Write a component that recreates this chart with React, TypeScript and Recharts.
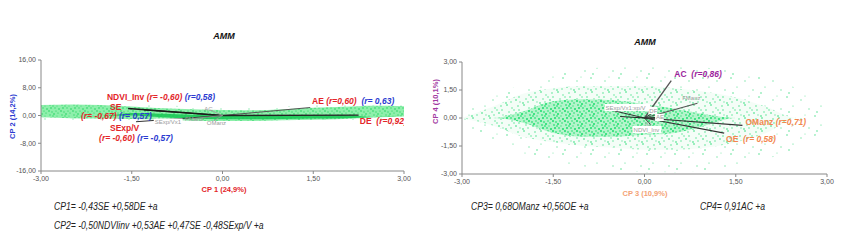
import React from 'react'
import { ComposedChart, Area, Scatter, XAxis, YAxis, ReferenceLine } from 'recharts'

// ---- shared axis ticks
const xTicks = [-3, -1.5, 0, 1.5, 3]
const cp2Ticks = [-16, -8, 0, 8, 16]
const cp4Ticks = [-3, -1.5, 0, 1.5, 3]

// ---- CP1 x CP2 cloud envelope
const gridL = [-3, -2.5, -2, -1.5, -1, -0.5, 0, 0.5, 1, 1.5, 2, 2.5, 3]
const haloTopL = [3.8, 4.2, 4.0, 3.6, 3.0, 2.6, 2.4, 2.3, 2.6, 3.0, 3.4, 3.8, 3.6]
const haloBottomL = [-1.2, -1.6, -1.7, -1.8, -2.0, -2.3, -2.4, -2.4, -2.2, -2.0, -1.8, -1.4, -1.0]
const cloudTopL = [3.0, 3.2, 3.0, 2.6, 2.1, 1.8, 1.6, 1.5, 1.8, 2.2, 2.5, 2.8, 2.7]
const cloudBottomL = [-0.5, -0.8, -0.9, -1.0, -1.2, -1.5, -1.6, -1.6, -1.4, -1.2, -1.0, -0.6, -0.3]
const coreTopL = [0, 0, -0.1, 0.7, 0.5, 0.2, 0.1, 0.0, 0.0, 0.0, 0.1, -0.4, 0]
const coreBottomL = [0, 0, -0.1, 0.0, -0.5, -0.9, -1.1, -1.1, -1.0, -0.9, -0.8, -0.4, 0]

// ---- CP3 x CP4 cloud envelope
const gridR = [-3, -2.5, -2, -1.5, -1, -0.5, 0, 0.5, 1, 1.5, 2, 2.5, 3]
const outerTopR = [0.3, 1.2, 1.8, 2.3, 2.6, 2.8, 2.9, 2.8, 2.7, 2.5, 2.2, 1.6, 0.5]
const outerBottomR = [-0.3, -1.2, -1.9, -2.3, -2.6, -2.8, -2.9, -2.9, -2.8, -2.6, -2.2, -1.6, -0.5]
const midTopR = [0, 0.6, 1.3, 1.6, 1.7, 1.7, 1.7, 1.6, 1.4, 1.1, 0.6, 0, 0]
const midBottomR = [0, -0.4, -1.0, -1.3, -1.5, -1.6, -1.7, -1.7, -1.6, -1.3, -0.8, 0, 0]
const coreTopR = [0, 0, 0.35, 0.9, 1.0, 0.95, 0.75, 0.5, 0.2, 0, 0, 0, 0]
const coreBottomR = [0, 0, -0.25, -0.8, -1.0, -1.0, -0.9, -0.8, -0.4, 0, 0, 0, 0]

// ---- loading vectors
const vectorsL = [
  { name: 'SE', x: -1.56, y: 2.0, color: '#1a1a1a', w: 1.4 },
  { name: 'NDVI_Inv', x: -1.3, y: 1.6, color: '#1a1a1a', w: 1.2 },
  { name: 'SExp/V', x: -1.43, y: -1.8, color: '#333', w: 1 },
  { name: 'AE', x: 1.45, y: 2.3, color: '#555', w: 1 },
  { name: 'DE', x: 2.25, y: 0.1, color: '#222', w: 1.3 },
  { name: 'AC', x: -0.2, y: 1.6, color: '#999', w: 0.8 },
  { name: 'FManz', x: -0.5, y: -0.9, color: '#999', w: 0.8 },
  { name: 'OManz', x: -0.15, y: -1.6, color: '#999', w: 0.8 },
]
const vectorsR = [
  { name: 'AC', x: 0.44, y: 2.0, color: '#555', w: 1.3 },
  { name: 'FManz', x: 0.87, y: 0.79, color: '#555', w: 1.1 },
  { name: 'OManz', x: 1.61, y: -0.4, color: '#333', w: 1.2 },
  { name: 'OE', x: 1.31, y: -0.81, color: '#333', w: 1.2 },
  { name: 'SExp/V', x: -0.52, y: 0.4, color: '#333', w: 1 },
  { name: 'SE', x: -0.4, y: 0.08, color: '#222', w: 1.2 },
  { name: 'DF', x: 0.15, y: 0.3, color: '#333', w: 1 },
  { name: 'AE', x: 0.3, y: 0.05, color: '#333', w: 1 },
  { name: 'NDVI_Inv', x: 0.1, y: -0.35, color: '#333', w: 1 },
]

const RED = '#e3262a'
const BLUE = '#2b3bd1'
const PURPLE = '#9d1f9d'
const ORANGE = '#f2874e'
const GREY = '#9a9a9a'

type Part = { text: string; color: string; bold?: boolean; italic?: boolean }
type Tag = { x: number; y: number; size: number; box?: boolean; parts: Part[] }

const labelsL: Tag[] = [
  { x: -1.91, y: 5.3, size: 8.5, parts: [
    { text: 'NDVI_Inv ', color: RED, bold: true },
    { text: '(r= -0,60) ', color: RED, bold: true, italic: true },
    { text: '(r=0,58)', color: BLUE, bold: true, italic: true }] },
  { x: -1.86, y: 2.5, size: 8.5, parts: [{ text: 'SE', color: RED, bold: true }] },
  { x: -2.34, y: -0.2, size: 8.5, parts: [
    { text: '(r= -0,67) ', color: RED, bold: true, italic: true },
    { text: '(r= 0,57)', color: BLUE, bold: true, italic: true }] },
  { x: -1.86, y: -3.6, size: 8.5, parts: [{ text: 'SExp/V', color: RED, bold: true }] },
  { x: -2.04, y: -6.6, size: 8.5, parts: [
    { text: '(r= -0,60) ', color: RED, bold: true, italic: true },
    { text: '(r= -0,57)', color: BLUE, bold: true, italic: true }] },
  { x: 1.48, y: 4.3, size: 8.5, parts: [
    { text: 'AE ', color: RED, bold: true },
    { text: '(r=0,60)  ', color: RED, bold: true, italic: true },
    { text: '(r= 0,63)', color: BLUE, bold: true, italic: true }] },
  { x: 2.27, y: -1.6, size: 8.5, parts: [
    { text: 'DE  ', color: RED, bold: true },
    { text: '(r=0,92)', color: RED, bold: true, italic: true }] },
  { x: -0.3, y: 2.0, size: 6, parts: [{ text: 'AC', color: GREY }] },
  { x: -0.62, y: -1.1, size: 6, parts: [{ text: 'FManz', color: GREY }] },
  { x: -0.26, y: -2.1, size: 6, parts: [{ text: 'OManz', color: GREY }] },
  { x: -1.12, y: -1.9, size: 6, box: true, parts: [{ text: 'SExp/Vx1', color: GREY }] },
]

const labelsR: Tag[] = [
  { x: 0.49, y: 2.38, size: 8.5, parts: [
    { text: 'AC  ', color: PURPLE, bold: true },
    { text: '(r=0,86)', color: PURPLE, bold: true, italic: true }] },
  { x: 1.66, y: -0.24, size: 8.5, parts: [
    { text: 'OManz ', color: ORANGE, bold: true },
    { text: '(r=0,71)', color: ORANGE, bold: true, italic: true }] },
  { x: 1.34, y: -1.15, size: 8.5, parts: [
    { text: 'OE  ', color: ORANGE, bold: true },
    { text: '(r= 0,58)', color: ORANGE, bold: true, italic: true }] },
  { x: 0.62, y: 1.06, size: 6, parts: [{ text: 'FManz', color: GREY }] },
  { x: -0.64, y: 0.56, size: 6, box: true, parts: [{ text: 'SExp/Vx1:xp/V', color: GREY }] },
  { x: 0.08, y: 0.4, size: 6, box: true, parts: [{ text: 'DF', color: GREY }] },
  { x: 0.19, y: 0.03, size: 6, box: true, parts: [{ text: 'AE', color: GREY }] },
  { x: 0.01, y: -0.3, size: 6, parts: [{ text: 'IG', color: GREY }] },
  { x: -0.18, y: -0.62, size: 6, box: true, parts: [{ text: 'NDVI_Inv', color: GREY }] },
]

const equationsL = ['CP1= -0,43SE +0,58DE +a', 'CP2= -0,50NDVIinv +0,53AE +0,47SE -0,48SExp/V +a']
const equationsR = ['CP3= 0,68OManz +0,56OE +a', 'CP4= 0,91AC +a']

const bandL = gridL.map((x, i) => ({
  x,
  halo: [haloBottomL[i], haloTopL[i]],
  cloud: [cloudBottomL[i], cloudTopL[i]],
  core: [coreBottomL[i], coreTopL[i]],
}))
const bandR = gridR.map((x, i) => ({
  x,
  outer: [outerBottomR[i], outerTopR[i]],
  mid: [midBottomR[i], midTopR[i]],
  core: [coreBottomR[i], coreTopR[i]],
}))

const SANS = "'Liberation Sans', Arial, sans-serif"
const fmt = (v: number) => v.toFixed(2).replace('.', ',')

// speckle textures for the point clouds (irregular dot tiles)
const speck = {
  sparse: [[3, 2], [17, 5], [9, 11], [25, 14], [5, 17], [21, 1]],
  medium: [[2, 1], [7, 4], [13, 2], [4, 8], [11, 9], [15, 11], [1, 12], [9, 6], [14, 6], [6, 11]],
  dense: [[1, 1], [4, 2], [8, 1], [2, 5], [6, 4], [9, 6], [3, 8], [7, 8], [10, 3], [5, 6], [11, 9]],
}

function Speckle({ id, w, h, pts, bg, dot, r }: { id: string; w: number; h: number; pts: number[][]; bg?: string; dot: string; r: number }) {
  return (
    <pattern id={id} patternUnits="userSpaceOnUse" width={w} height={h}>
      {bg && <rect width={w} height={h} fill={bg} />}
      {pts.map(([x, y], i) => (
        <circle key={i} cx={x} cy={y} r={i % 3 === 2 ? r * 0.8 : r} fill={dot} opacity={i % 2 ? 0.7 : 1} />
      ))}
    </pattern>
  )
}

function TagShape(props: any) {
  const { cx, cy, payload } = props
  const t = payload as Tag
  if (cx == null || cy == null) return null
  const len = t.parts.reduce((n, p) => n + p.text.length, 0)
  return (
    <g>
      {t.box && (
        <rect x={cx - 1} y={cy - t.size * 0.6} width={len * t.size * 0.56 + 2} height={t.size * 1.2} fill="#fff" />
      )}
      <text x={cx} y={cy} dominantBaseline="central" fontSize={t.size} fontFamily={SANS}>
        {t.parts.map((p, i) => (
          <tspan key={i} fill={p.color} fontWeight={p.bold ? 700 : 400} fontStyle={p.italic ? 'italic' : 'normal'}>
            {p.text.replace(/ /g, '\u00a0')}
          </tspan>
        ))}
      </text>
    </g>
  )
}

const axisTick = { fontSize: 7, fill: '#555', fontFamily: SANS }
const eqStyle: React.CSSProperties = {
  fontSize: 10.5, fontStyle: 'italic', color: '#222', whiteSpace: 'nowrap',
  transform: 'scaleX(0.82)', transformOrigin: 'left center',
}

export default function App() {
  const abs = (left: number, top: number): React.CSSProperties => ({ position: 'absolute', left, top })
  return (
    <div style={{ position: 'absolute', left: 0, top: 0, width: 850, height: 243, background: '#fff', fontFamily: SANS, overflow: 'hidden' }}>
      {/* left biplot */}
      <div style={abs(0, 0)}>
        <ComposedChart width={420} height={200} data={bandL} margin={{ top: 60, right: 16, bottom: 9, left: 6 }}>
          <defs>
            <Speckle id="haloL" w={28} h={19} pts={speck.sparse} dot="#3fdc7c" r={0.7} />
            <Speckle id="cloudL" w={12} h={10} pts={speck.dense} bg="#8eefab" dot="#14cf55" r={0.75} />
          </defs>
          <XAxis dataKey="x" type="number" domain={[-3, 3]} ticks={xTicks} tickFormatter={fmt} allowDataOverflow
            height={20} stroke="#888" tickSize={3} tick={axisTick} interval={0} />
          <YAxis dataKey="y" type="number" domain={[-16, 16]} ticks={cp2Ticks} tickFormatter={fmt} allowDataOverflow
            width={35} stroke="#888" tickSize={3} tick={axisTick} interval={0} />
          <Area type="monotone" dataKey="halo" stroke="none" fill="url(#haloL)" fillOpacity={1} isAnimationActive={false} />
          <Area type="monotone" dataKey="cloud" stroke="none" fill="url(#cloudL)" fillOpacity={1} isAnimationActive={false} />
          <Area type="monotone" dataKey="core" stroke="none" fill="#15c552" fillOpacity={0.85} isAnimationActive={false} />
          {vectorsL.map((v) => (
            <ReferenceLine key={v.name} segment={[{ x: 0, y: 0 }, { x: v.x, y: v.y }]} stroke={v.color} strokeWidth={v.w} />
          ))}
          <Scatter data={labelsL} shape={TagShape} isAnimationActive={false} />
        </ComposedChart>
      </div>

      {/* right biplot */}
      <div style={abs(420, 0)}>
        <ComposedChart width={430} height={200} data={bandR} margin={{ top: 62, right: 23, bottom: 6, left: 7 }}>
          <defs>
            <Speckle id="outerR" w={28} h={19} pts={speck.sparse} dot="#45dd86" r={0.75} />
            <Speckle id="midR" w={17} h={13} pts={speck.medium} bg="#f4fdf7" dot="#2adc76" r={0.8} />
            <Speckle id="coreR" w={12} h={10} pts={speck.dense} bg="#b4f4cb" dot="#0fdc66" r={0.95} />
          </defs>
          <XAxis dataKey="x" type="number" domain={[-3, 3]} ticks={xTicks} tickFormatter={fmt} allowDataOverflow
            height={20} stroke="#888" tickSize={3} tick={axisTick} interval={0} />
          <YAxis dataKey="y" type="number" domain={[-3, 3]} ticks={cp4Ticks} tickFormatter={fmt} allowDataOverflow
            width={35} stroke="#888" tickSize={3} tick={axisTick} interval={0} />
          <Area type="monotone" dataKey="outer" stroke="none" fill="url(#outerR)" fillOpacity={1} isAnimationActive={false} />
          <Area type="monotone" dataKey="mid" stroke="none" fill="url(#midR)" fillOpacity={1} isAnimationActive={false} />
          <Area type="monotone" dataKey="core" stroke="none" fill="url(#coreR)" fillOpacity={1} isAnimationActive={false} />
          {vectorsR.map((v) => (
            <ReferenceLine key={v.name} segment={[{ x: 0, y: 0 }, { x: v.x, y: v.y }]} stroke={v.color} strokeWidth={v.w} />
          ))}
          <Scatter data={labelsR} shape={TagShape} isAnimationActive={false} />
        </ComposedChart>
      </div>

      {/* titles */}
      <div style={{ ...abs(194, 31), width: 60, textAlign: 'center', fontSize: 9, fontWeight: 700, fontStyle: 'italic', color: '#111' }}>AMM</div>
      <div style={{ ...abs(615, 37), width: 60, textAlign: 'center', fontSize: 9, fontWeight: 700, fontStyle: 'italic', color: '#111' }}>AMM</div>

      {/* axis titles */}
      <div style={{ ...abs(174, 185), width: 100, textAlign: 'center', fontSize: 7.5, fontWeight: 700, color: RED }}>CP 1 (24,9%)</div>
      <div style={{ ...abs(595, 189), width: 100, textAlign: 'center', fontSize: 7.5, fontWeight: 700, color: '#f4a275' }}>CP 3 (10,9%)</div>
      <div style={{ ...abs(-38, 112), width: 100, textAlign: 'center', fontSize: 7.5, fontWeight: 700, color: BLUE, transform: 'rotate(-90deg)' }}>CP 2 (14,2%)</div>
      <div style={{ ...abs(385, 97), width: 100, textAlign: 'center', fontSize: 7.5, fontWeight: 700, color: '#a23aa2', transform: 'rotate(-90deg)' }}>CP 4 (10,1%)</div>

      {/* model equations */}
      {equationsL.map((e, i) => (
        <div key={e} style={{ ...abs(54, 200 + i * 19), ...eqStyle }}>{e}</div>
      ))}
      {equationsR.map((e, i) => (
        <div key={e} style={{ ...abs(i === 0 ? 471 : 700, 200), ...eqStyle }}>{e}</div>
      ))}
    </div>
  )
}
